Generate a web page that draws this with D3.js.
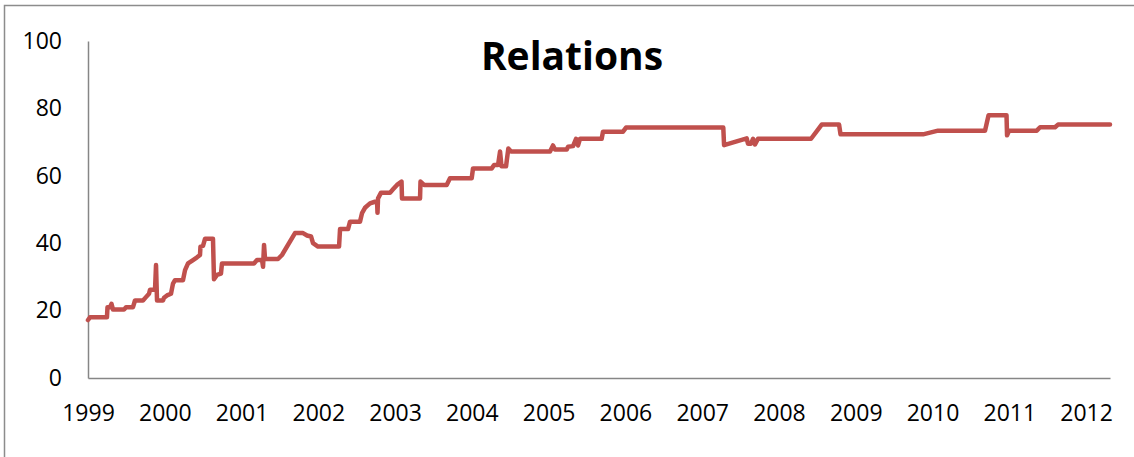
<!DOCTYPE html>
<html>
<head>
<meta charset="utf-8">
<script src="https://cdn.jsdelivr.net/npm/d3@7"></script>
<style>
  html, body { margin: 0; padding: 0; background: #fff; }
  svg { display: block; }
</style>
</head>
<body>
<svg id="chart" width="1134" height="457"></svg>
<script>
// ---- data (decimal years, value) ----
const chartTitle = "Relations";
const yearTicks = [1999, 2000, 2001, 2002, 2003, 2004, 2005, 2006, 2007, 2008, 2009, 2010, 2011, 2012];
const valueTicks = [0, 20, 40, 60, 80, 100];
const dates = [
  1999.000, 1999.026, 1999.247, 1999.254, 1999.287, 1999.306, 1999.326, 1999.469, 1999.495, 1999.586,
  1999.612, 1999.716, 1999.755, 1999.795, 1999.808, 1999.873, 1999.886, 1999.899, 1999.977, 1999.990,
  2000.029, 2000.081, 2000.107, 2000.133, 2000.237, 2000.264, 2000.303, 2000.368, 2000.420, 2000.459,
  2000.465, 2000.498, 2000.524, 2000.628, 2000.641, 2000.680, 2000.732, 2000.745, 2001.162, 2001.201,
  2001.267, 2001.280, 2001.293, 2001.306, 2001.475, 2001.527, 2001.696, 2001.801, 2001.853, 2001.905,
  2001.931, 2001.996, 2002.270, 2002.283, 2002.387, 2002.413, 2002.543, 2002.569, 2002.608, 2002.673,
  2002.738, 2002.765, 2002.771, 2002.778, 2002.817, 2002.934, 2002.973, 2003.025, 2003.084, 2003.090,
  2003.325, 2003.331, 2003.377, 2003.672, 2003.715, 2003.998, 2004.015, 2004.259, 2004.289, 2004.341,
  2004.367, 2004.386, 2004.445, 2004.475, 2004.510, 2005.018, 2005.057, 2005.083, 2005.236, 2005.252,
  2005.318, 2005.357, 2005.383, 2005.409, 2005.691, 2005.708, 2005.969, 2006.008, 2007.275, 2007.285,
  2007.580, 2007.597, 2007.636, 2007.662, 2007.688, 2007.727, 2008.418, 2008.557, 2008.783, 2008.802,
  2009.877, 2010.072, 2010.684, 2010.730, 2010.964, 2010.971, 2010.997, 2011.358, 2011.401, 2011.596,
  2011.635, 2012.312
];
const values = [
  17.2, 18, 18, 21, 21, 22, 20.3, 20.3, 21, 21,
  23, 23, 24, 25, 26.2, 26.2, 33.5, 23, 23, 23.8,
  24.5, 25, 28, 29, 29, 32, 34, 35, 35.8, 36.5,
  39, 39.2, 41.3, 41.3, 29.3, 30.6, 31, 34, 34, 35,
  35, 33, 39.5, 35.3, 35.3, 36.5, 43, 43, 42.3, 42,
  40, 39, 39, 44.2, 44.2, 46.4, 46.4, 48.9, 50.5, 51.8,
  52.3, 52.3, 49, 53.3, 55, 55, 56, 57.3, 58.3, 53.3,
  53.3, 58.3, 57.3, 57.3, 59.3, 59.3, 62.2, 62.2, 63.2, 63.2,
  67.2, 62.8, 62.8, 68.1, 67.2, 67.2, 69, 67.8, 67.8, 68.6,
  68.8, 71, 69, 71, 71, 73.1, 73.1, 74.3, 74.3, 69.1,
  71.1, 69.5, 69.5, 71, 69.3, 71, 71, 75.2, 75.2, 72.3,
  72.3, 73.4, 73.4, 78, 78, 72, 73.4, 73.4, 74.4, 74.4,
  75.2, 75.2
];

const series = dates.map((d, i) => ({ t: d, v: values[i] }));

// ---- layout ----
const svg = d3.select("#chart");
const mLeft = 88, mRight = 1110, mTop = 41, mBottom = 378;
const font = "'Open Sans', 'Liberation Sans', sans-serif";

const x = d3.scaleLinear().domain([1999, dates[dates.length - 1]]).range([mLeft, mRight]);
const y = d3.scaleLinear().domain([0, 100]).range([mBottom, mTop]);

// outer frame (only left & top edges visible)
svg.append("path")
  .attr("d", `M4.5,457 L4.5,5.5 L1134,5.5`)
  .attr("fill", "none")
  .attr("stroke", "#8c8c8c")
  .attr("stroke-width", 1.5);

// title
svg.append("text")
  .attr("x", 572).attr("y", 70)
  .attr("text-anchor", "middle")
  .attr("font-family", font)
  .attr("font-weight", "bold")
  .attr("font-size", 39)
  .attr("fill", "#000")
  .text(chartTitle);

// y axis
const yAxis = d3.axisLeft(y).tickValues(valueTicks).tickSize(0).tickPadding(26);
const gy = svg.append("g").attr("transform", `translate(${mLeft},0)`).call(yAxis);
gy.select(".domain").attr("stroke", "#868686").attr("stroke-width", 1.5);
gy.selectAll("text").attr("font-family", font).attr("font-size", 23).attr("fill", "#000");

// x axis
const xAxis = d3.axisBottom(x).tickValues(yearTicks).tickFormat(d3.format("d")).tickSize(0).tickPadding(27);
const gx = svg.append("g").attr("transform", `translate(0,${mBottom})`).call(xAxis);
gx.select(".domain").attr("stroke", "#868686").attr("stroke-width", 1.5);
gx.selectAll("text").attr("font-family", font).attr("font-size", 23).attr("fill", "#000");

// line
const line = d3.line().x(d => x(d.t)).y(d => y(d.v));
svg.append("path")
  .datum(series)
  .attr("d", line)
  .attr("fill", "none")
  .attr("stroke", "#C0504D")
  .attr("stroke-width", 4.5)
  .attr("stroke-linejoin", "round")
  .attr("stroke-linecap", "round");
</script>
</body>
</html>
